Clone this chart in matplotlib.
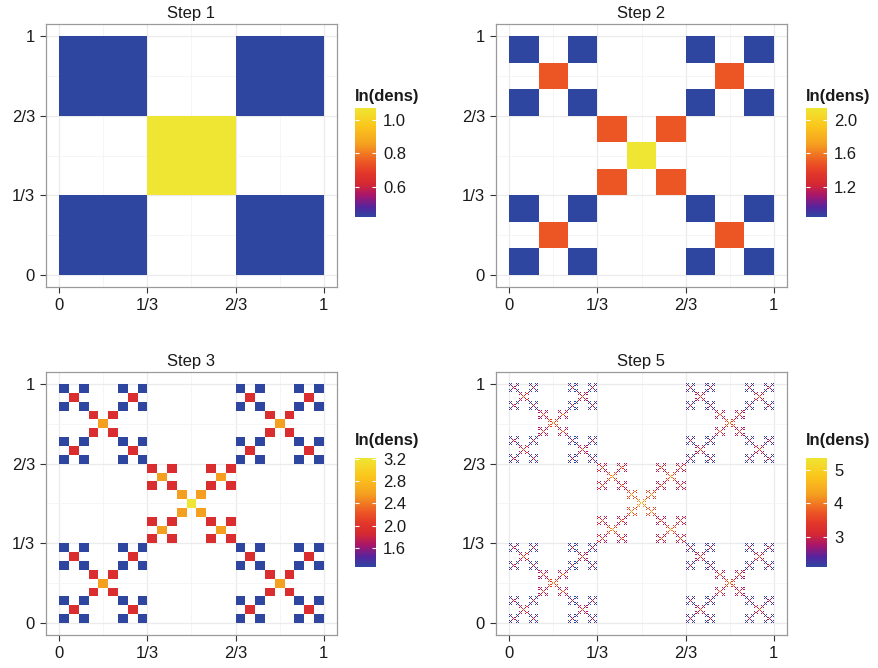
import numpy as np
import matplotlib
matplotlib.use("Agg")
import matplotlib.pyplot as plt
from matplotlib.colors import LinearSegmentedColormap

plt.rcParams['font.family'] = ['Liberation Sans', 'DejaVu Sans']

# cascade weights: mass given to each corner cell and to the centre cell
corner_weight = 0.169
center_weight = 0.324
steps = [1, 2, 3, 5]
titles = ["Step 1", "Step 2", "Step 3", "Step 5"]
cbar_ticks = [[0.6, 0.8, 1.0], [1.2, 1.6, 2.0],
              [1.6, 2.0, 2.4, 2.8, 3.2], [3, 4, 5]]
cbar_labels = [["0.6", "0.8", "1.0"], ["1.2", "1.6", "2.0"],
               ["1.6", "2.0", "2.4", "2.8", "3.2"], ["3", "4", "5"]]
axis_ticks = [0, 1/3, 2/3, 1]
axis_labels = ["0", "1/3", "2/3", "1"]

cmap = LinearSegmentedColormap.from_list("dens", [
    (0.00, "#2E46A0"), (0.09, "#55249E"), (0.20, "#A8166A"),
    (0.30, "#D42832"), (0.40, "#E2372A"), (0.50, "#EC5524"),
    (0.67, "#F5A020"), (0.84, "#FBC71C"), (1.00, "#EFE533")])


def density(n):
    w = 9 * np.array([[corner_weight, 0, corner_weight],
                      [0, center_weight, 0],
                      [corner_weight, 0, corner_weight]])
    d = np.ones((1, 1))
    for _ in range(n):
        d = np.kron(d, w)
    with np.errstate(divide='ignore'):
        ld = np.log(d)
    ld[d == 0] = np.nan
    return ld


W, H = 879, 668
fig = plt.figure(figsize=(W / 100, H / 100), dpi=100)

panels = [(46, 24), (496, 24), (46, 372), (496, 372)]
cbars = [(355, 108), (806, 108), (355, 458), (806, 458)]
title_gap = [7, 7, 13, 13]
pw, ph = 291, 263
fs = 12

for i, n in enumerate(steps):
    x0, y0 = panels[i]
    ax = fig.add_axes([x0 / W, 1 - (y0 + ph) / H, pw / W, ph / H])
    z = density(n)
    if n >= 5:
        im = ax.imshow(z, cmap=cmap, origin='lower', extent=[0, 1, 0, 1],
                       interpolation='nearest', aspect='auto', zorder=1,
                       vmin=np.nanmin(z), vmax=np.nanmax(z))
    else:
        edges = np.linspace(0, 1, z.shape[0] + 1)
        im = ax.pcolormesh(edges, edges, np.ma.masked_invalid(z), cmap=cmap,
                           vmin=np.nanmin(z), vmax=np.nanmax(z), zorder=1,
                           edgecolors='none')
    ax.set_xlim(-0.05, 1.05)
    ax.set_ylim(-0.05, 1.05)
    ax.set_xticks(axis_ticks)
    ax.set_xticklabels(axis_labels)
    ax.set_yticks(axis_ticks)
    ax.set_yticklabels(axis_labels)
    ax.set_xticks([1/6, 1/2, 5/6], minor=True)
    ax.set_yticks([1/6, 1/2, 5/6], minor=True)
    ax.set_axisbelow(True)
    ax.grid(which='major', color='#EBEBEB', lw=0.9)
    ax.grid(which='minor', color='#F4F4F4', lw=0.6)
    ax.tick_params(which='minor', length=0)
    ax.tick_params(which='major', length=4, width=0.8, color='#333333',
                   labelsize=fs, labelcolor='#1a1a1a', pad=4)
    for s in ax.spines.values():
        s.set_color('#9a9a9a')
        s.set_linewidth(0.9)
    ax.set_title(titles[i], fontsize=fs, pad=4, color='#1a1a1a')

    cx, cy = cbars[i]
    cax = fig.add_axes([cx / W, 1 - (cy + 109) / H, 21 / W, 109 / H])
    cb = fig.colorbar(im, cax=cax, ticks=cbar_ticks[i])
    cb.ax.set_yticklabels(cbar_labels[i])
    cb.outline.set_visible(False)
    cb.ax.tick_params(direction='in', length=3, width=0.8, color='white',
                      left=True, right=True, labelleft=False,
                      labelright=True, labelsize=fs,
                      labelcolor='#1a1a1a', pad=5)
    fig.text(cx / W, 1 - (cy - title_gap[i]) / H, "ln(dens)", fontsize=fs,
             fontweight='bold', ha='left', va='baseline', color='#1a1a1a')

fig.savefig("out.png", dpi=100)
